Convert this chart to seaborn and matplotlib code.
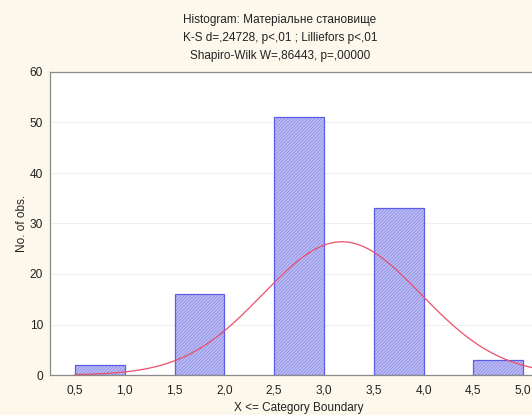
import numpy as np
import pandas as pd
import matplotlib
matplotlib.use("Agg")
import matplotlib.pyplot as plt
import seaborn as sns

# Category boundaries (right edge of each bar) and observed counts
bar_left = [0.5, 1.5, 2.5, 3.5, 4.5]
bar_right = [1.0, 2.0, 3.0, 4.0, 5.0]
counts = [2, 16, 51, 33, 3]
category_values = [1, 2, 3, 4, 5]
x_ticks = [0.5, 1.0, 1.5, 2.0, 2.5, 3.0, 3.5, 4.0, 4.5, 5.0]
y_ticks = [0, 10, 20, 30, 40, 50, 60]

title_lines = [
    "Histogram: Матеріальне становище",
    "K-S d=,24728, p<,01 ; Lilliefors p<,01",
    "Shapiro-Wilk W=,86443, p=,00000",
]

sns.set_theme(style="white")
plt.rcParams["font.family"] = ["Liberation Sans", "DejaVu Sans"]
plt.rcParams["hatch.linewidth"] = 0.5

W, H, DPI = 532, 415, 100
fig = plt.figure(figsize=(W / DPI, H / DPI), dpi=DPI, facecolor="#fdf8ec")

# axes run past the right edge of the canvas
x0, x1 = 0.25, 5.25
px_per_unit = 99.6
left_px, bottom_px, top_px = 50, 375, 72
width_px = (x1 - x0) * px_per_unit
ax = fig.add_axes([left_px / W, (H - bottom_px) / H, width_px / W, (bottom_px - top_px) / H])
ax.set_facecolor("white")

df = pd.DataFrame({
    "mid": [(a + b) / 2 for a, b in zip(bar_left, bar_right)],
    "count": counts,
})
# hatched fill (the hatch takes the edge colour), then a separate outline
sns.barplot(data=df, x="mid", y="count", native_scale=True, width=0.5,
            color="#bcbcf3", saturation=1, edgecolor="#8a8ae8", linewidth=0,
            hatch="//////////", ax=ax, zorder=2)
sns.barplot(data=df, x="mid", y="count", native_scale=True, width=0.5,
            fill=False, edgecolor="#5c5ce6", linewidth=0.9, ax=ax, zorder=2.5)

# Fitted normal curve from the category counts
vals = np.repeat(category_values, counts)
mu, sd = vals.mean(), vals.std(ddof=1)
n = len(vals)
xs = np.linspace(0.5, x1, 300)
ys = n * 0.5 * np.exp(-0.5 * ((xs - mu) / sd) ** 2) / (sd * np.sqrt(2 * np.pi))
sns.lineplot(x=xs, y=ys, color="#e8506a", linewidth=0.9, ax=ax, zorder=3)

ax.set_xlim(x0, x1)
ax.set_ylim(0, 60)
ax.set_xticks(x_ticks)
ax.set_xticklabels([f"{t:.1f}".replace(".", ",") for t in x_ticks])
ax.set_yticks(y_ticks)
ax.yaxis.grid(True, color="#efefef", linewidth=0.8)
ax.set_axisbelow(True)
for s in ax.spines.values():
    s.set_color("#8a8a8a")
    s.set_linewidth(0.9)
ax.tick_params(axis="both", colors="#8a8a8a", labelcolor="#222222", labelsize=8.6,
               length=3, width=0.8, direction="out", pad=2)
ax.tick_params(axis="x", pad=4)
ax.set_xlabel("X <= Category Boundary", fontsize=8.5, color="#222222", labelpad=4)
ax.set_ylabel("No. of obs.", fontsize=8.5, color="#222222", labelpad=1)

for i, line in enumerate(title_lines):
    fig.text(280 / W, 1 - (20 + 18 * i) / H, line, ha="center", va="center",
             fontsize=8.5, color="#222222")

fig.savefig("out.png", dpi=DPI, facecolor=fig.get_facecolor())
